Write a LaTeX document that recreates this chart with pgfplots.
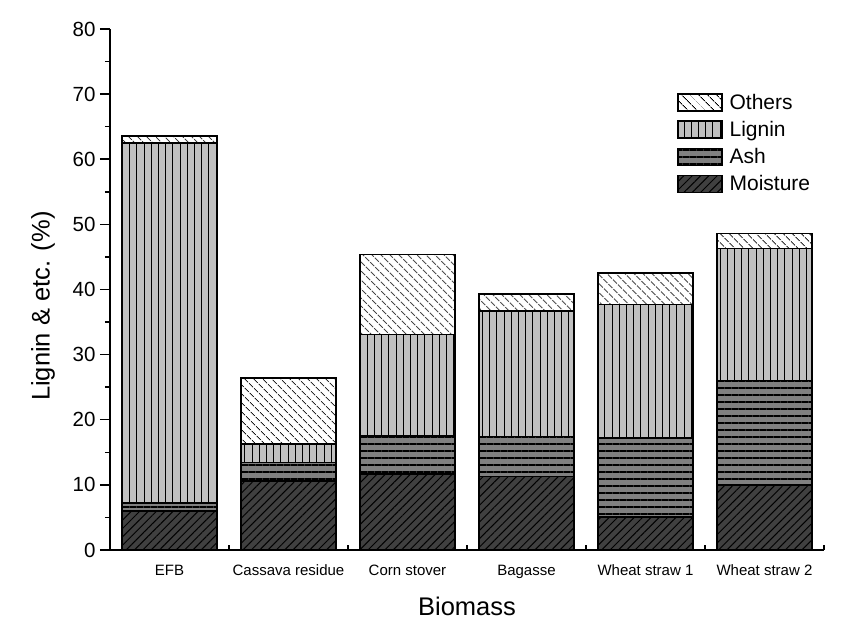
\documentclass[border=0pt]{standalone}
\usepackage{pgfplots}
\pgfplotsset{compat=1.18}
\usepackage{fontspec}
\setmainfont{Liberation Sans}
\usetikzlibrary{patterns.meta}
\definecolor{cMoist}{HTML}{404040}
\definecolor{cAsh}{HTML}{808080}
\definecolor{cLig}{HTML}{C0C0C0}
\begin{document}
\begin{tikzpicture}
\useasboundingbox (-110pt,-76pt) rectangle (742pt,550pt);
\begin{axis}[
  scale only axis, width=714pt, height=521pt,
  ybar stacked, bar width=95pt,
  xmin=-0.5, xmax=5.5, ymin=0, ymax=80,
  axis x line*=bottom, axis y line*=left,
  axis line style={line width=2pt},
  xtick={0,...,5},
  xticklabels={EFB,Cassava residue,Corn stover,Bagasse,Wheat straw 1,Wheat straw 2},
  minor xtick={0.5,1.5,...,5.5},
  xtick align=inside, ytick align=outside,
  xtick style={draw=none},
  minor x tick style={line width=1.5pt, draw=black},
  ytick={0,10,...,80}, minor y tick num=1,
  major tick length=10pt, minor tick length=5pt,
  ytick style={line width=1.5pt, black},
  minor y tick style={line width=1.5pt, black},
  /pgf/number format/assume math mode=true,
  yticklabel style={font=\fontsize{20.5}{24}\selectfont, xshift=-1pt},
  xticklabel style={font=\fontsize{15}{18}\selectfont, anchor=base, yshift=-26pt},
  ylabel={Lignin \& etc. (\%)},
  xlabel={Biomass},
  ylabel style={font=\fontsize{25.5}{30}\selectfont, at={(axis description cs:-0.0938,0.468)}, anchor=center},
  xlabel style={font=\fontsize{25.5}{30}\selectfont, at={(axis description cs:0.5,0)}, yshift=-56pt, anchor=center},
  legend style={draw=none, fill=none, at={(axis description cs:0.794,0.877)}, anchor=north west,
    inner sep=0pt, font=\fontsize{21}{24}\selectfont, row sep=8.7pt,
    nodes={inner sep=0pt, anchor=west}},
  legend cell align=left,
  reverse legend,
  legend image code/.code={\draw[#1] (0pt,-8.5pt) rectangle (44pt,8.5pt);},
]
\addplot[fill=cMoist, draw=black, line width=1.5pt,
  postaction={pattern={Lines[angle=45,distance=5.9pt,line width=1pt]}, draw=black, line width=1.5pt}]
  coordinates {(0,6.0) (1,10.6) (2,11.7) (3,11.3) (4,5.1) (5,10.0)};
\addlegendentry{\hspace{7pt}Moisture}
\addplot[fill=cAsh, draw=black, line width=1.5pt,
  postaction={pattern={Lines[angle=0,distance=7pt,line width=1.1pt]}, draw=black, line width=1.5pt}]
  coordinates {(0,1.2) (1,2.8) (2,5.8) (3,6.1) (4,12.1) (5,16.0)};
\addlegendentry{\hspace{7pt}Ash}
\addplot[fill=cLig, draw=black, line width=1.5pt,
  postaction={pattern={Lines[angle=90,distance=7.2pt,line width=1pt]}, draw=black, line width=1.5pt}]
  coordinates {(0,55.3) (1,2.9) (2,15.6) (3,19.3) (4,20.5) (5,20.3)};
\addlegendentry{\hspace{7pt}Lignin}
\addplot[fill=white, draw=black, line width=1.5pt,
  postaction={pattern={Lines[angle=-45,distance=6.5pt,line width=1pt]}, draw=black, line width=1.5pt}]
  coordinates {(0,1.1) (1,10.1) (2,12.3) (3,2.6) (4,4.8) (5,2.3)};
\addlegendentry{\hspace{7pt}Others}
\end{axis}
\end{tikzpicture}
\end{document}
